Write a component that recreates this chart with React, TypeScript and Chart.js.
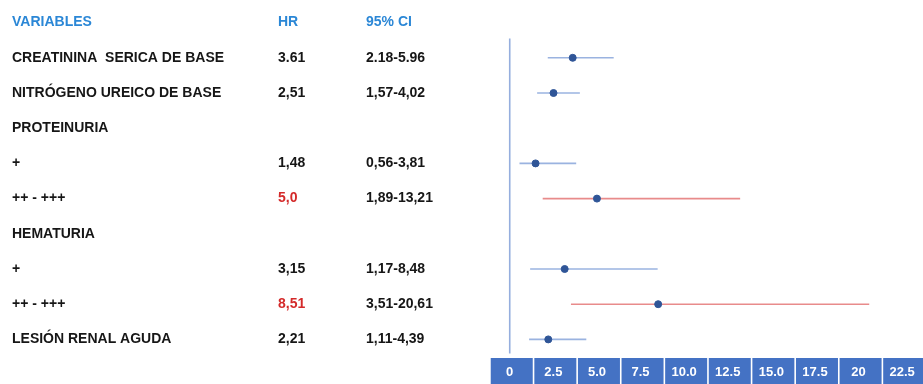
import React, { useEffect, useRef } from 'react';
import { Chart, registerables } from 'chart.js';

Chart.register(...registerables);

// ---- data ----
const headers = ['VARIABLES', 'HR', '95% CI'];
const rowLabels = [
  'CREATININA  SERICA DE BASE',
  'NITRÓGENO UREICO DE BASE',
  'PROTEINURIA',
  '+',
  '++ - +++',
  'HEMATURIA',
  '+',
  '++ - +++',
  'LESIÓN RENAL AGUDA',
];
const hrLabels = ['3.61', '2,51', '', '1,48', '5,0', '', '3,15', '8,51', '2,21'];
const ciLabels = ['2.18-5.96', '1,57-4,02', '', '0,56-3,81', '1,89-13,21', '', '1,17-8,48', '3,51-20,61', '1,11-4,39'];
const hrValues: (number | null)[] = [3.61, 2.51, null, 1.48, 5.0, null, 3.15, 8.51, 2.21];
const ciLow: (number | null)[] = [2.18, 1.57, null, 0.56, 1.89, null, 1.17, 3.51, 1.11];
const ciHigh: (number | null)[] = [5.96, 4.02, null, 3.81, 13.21, null, 8.48, 20.61, 4.39];
const highlighted = [false, false, false, false, true, false, false, true, false];
const tickValues = [0, 2.5, 5, 7.5, 10, 12.5, 15, 17.5, 20, 22.5];
const tickLabels = ['0', '2.5', '5.0', '7.5', '10.0', '12.5', '15.0', '17.5', '20', '22.5'];

// ---- styles ----
const FONT = '"Liberation Sans", Arial, Helvetica, sans-serif';
const HEADER_COLOR = '#2B87D6';
const TEXT_COLOR = '#161616';
const RED_TEXT = '#D42A2A';
const BLUE_LINE = 'rgba(120,154,214,0.75)';
const RED_LINE = 'rgba(226,110,110,0.8)';
const POINT_COLOR = '#2F5597';
const AXIS_BOX = '#4472C4';
const COL_X = [12, 278, 366];

export default function App() {
  const ref = useRef<HTMLCanvasElement>(null);

  useEffect(() => {
    document.body.style.margin = '0';
    const canvas = ref.current;
    if (!canvas) return;

    const points = hrValues
      .map((v, i) => (v == null ? null : { x: v, y: i + 1 }))
      .filter((p) => p !== null);

    const ciSets = ciLow
      .map((lo, i) => {
        const hi = ciHigh[i];
        if (lo == null || hi == null) return null;
        return {
          data: [
            { x: lo, y: i + 1 },
            { x: hi, y: i + 1 },
          ],
          showLine: true,
          borderColor: highlighted[i] ? RED_LINE : BLUE_LINE,
          borderWidth: 1.6,
          pointRadius: 0,
          pointHoverRadius: 0,
        };
      })
      .filter((d) => d !== null);

    const boxPlugin = {
      id: 'axisBoxes',
      beforeDraw(chart: any) {
        const { ctx } = chart;
        const xs = chart.scales.x;
        const top = chart.chartArea.bottom + 1;
        ctx.save();
        ctx.fillStyle = AXIS_BOX;
        tickValues.forEach((v) => {
          const px = xs.getPixelForValue(v);
          ctx.fillRect(px - 19, top, 42, chart.height - top);
        });
        ctx.restore();
      },
    };

    const tablePlugin = {
      id: 'tableText',
      afterDraw(chart: any) {
        const { ctx } = chart;
        const ys = chart.scales.y;
        ctx.save();
        ctx.textBaseline = 'middle';
        ctx.textAlign = 'left';
        ctx.font = `bold 14px ${FONT}`;
        ctx.fillStyle = HEADER_COLOR;
        const hy = ys.getPixelForValue(0);
        headers.forEach((h, j) => ctx.fillText(h, COL_X[j], hy));
        rowLabels.forEach((lab, i) => {
          const py = ys.getPixelForValue(i + 1);
          ctx.fillStyle = TEXT_COLOR;
          ctx.fillText(lab, COL_X[0], py);
          ctx.fillStyle = highlighted[i] ? RED_TEXT : TEXT_COLOR;
          ctx.fillText(hrLabels[i], COL_X[1], py);
          ctx.fillStyle = TEXT_COLOR;
          ctx.fillText(ciLabels[i], COL_X[2], py);
        });
        ctx.restore();
      },
    };

    const chart = new Chart(canvas, {
      type: 'scatter',
      data: {
        datasets: [
          {
            data: points as any,
            backgroundColor: POINT_COLOR,
            borderColor: POINT_COLOR,
            pointRadius: 3.5,
            showLine: false,
          },
          ...(ciSets as any[]),
          {
            data: [
              { x: 0, y: 0.45 },
              { x: 0, y: 9.4 },
            ],
            showLine: true,
            borderColor: 'rgba(130,160,216,0.85)',
            borderWidth: 1.6,
            pointRadius: 0,
          },
        ],
      },
      options: {
        animation: false,
        responsive: true,
        maintainAspectRatio: false,
        layout: { padding: { left: 497, top: 1, right: 0, bottom: 0 } },
        plugins: {
          legend: { display: false },
          tooltip: { enabled: false },
        },
        scales: {
          x: {
            type: 'linear',
            min: -0.73,
            max: 23.27,
            grid: { display: false, drawTicks: false },
            border: { display: false },
            afterBuildTicks: (scale: any) => {
              scale.ticks = tickValues.map((v) => ({ value: v }));
            },
            afterFit: (scale: any) => {
              scale.height = 27;
            },
            ticks: {
              color: '#ffffff',
              font: { family: FONT, size: 13, weight: 'bold' },
              padding: 8,
              maxRotation: 0,
              autoSkip: false,
              callback: (v: any) => {
                const idx = tickValues.indexOf(Number(v));
                return idx >= 0 ? tickLabels[idx] : '';
              },
            },
          },
          y: {
            type: 'linear',
            min: -0.5,
            max: 9.5,
            reverse: true,
            display: false,
          },
        },
      },
      plugins: [boxPlugin, tablePlugin],
    } as any);

    return () => chart.destroy();
  }, []);

  return (
    <div style={{ width: 923, height: 384, position: 'relative' }}>
      <canvas ref={ref} />
    </div>
  );
}
